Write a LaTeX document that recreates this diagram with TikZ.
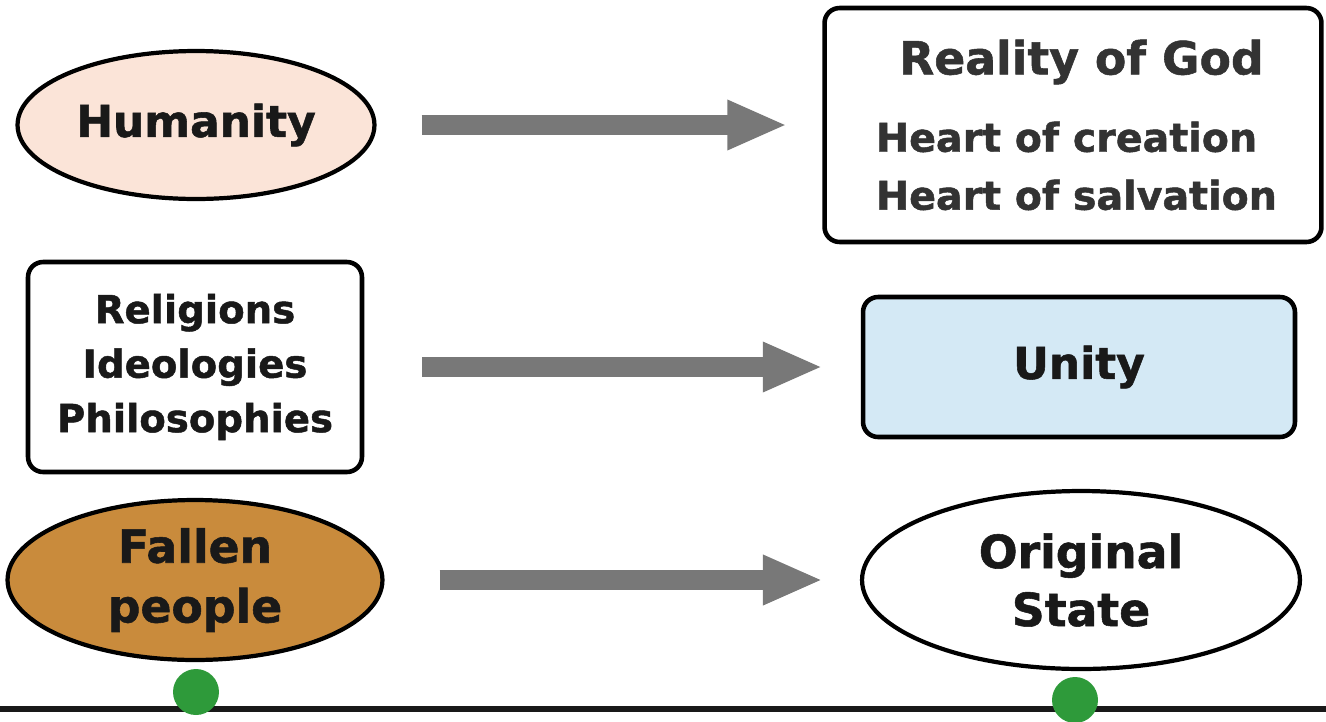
\documentclass[tikz,border=0pt]{standalone}
\usepackage{fontspec}
\setmainfont{DejaVu Sans}[BoldFeatures={FakeBold=1.2}]
\usetikzlibrary{shapes.geometric, arrows.meta}
\definecolor{peach}{RGB}{251,228,216}
\definecolor{ochre}{RGB}{201,139,60}
\definecolor{paleblue}{RGB}{212,233,245}
\definecolor{arrowgray}{RGB}{120,120,120}
\definecolor{inkgray}{RGB}{51,51,51}
\definecolor{dotgreen}{RGB}{46,154,58}

\begin{document}
\begin{tikzpicture}[x=0.02cm, y=-0.02cm]
	\tikzset{oval/.style={draw, ellipse, line width=2.4pt, inner sep=0pt, align=center, text=black!90}}
	\tikzset{panel/.style={draw, rectangle, rounded corners=0.3cm, line width=2.6pt, inner sep=0pt, align=center, text=black!90}}
	\tikzset{flow/.style={draw=arrowgray, line width=0.4cm, -{Triangle[length=1.2cm,width=0.92cm]}}}
	\tikzset{dot/.style={circle, fill=dotgreen, inner sep=0pt, minimum size=0.92cm}}
	
	\useasboundingbox (0,0) rectangle (1326,721);
	
	% left column
	\node(hum) at (196,125) [oval, fill=peach, minimum width=7.14cm, minimum height=2.96cm, font=\bfseries\fontsize{25}{30}\selectfont] {Humanity};
	\node(rel) at (195,367) [panel, minimum width=6.68cm, minimum height=4.2cm, font=\bfseries\fontsize{22}{31}\selectfont] {Religions\\Ideologies\\Philosophies};
	\node(fall) at (195,580) [oval, fill=ochre, minimum width=7.5cm, minimum height=3.2cm, font=\bfseries\fontsize{26}{34}\selectfont] {Fallen\\people};
	
	% right column
	\node(god) at (1073,125) [panel, minimum width=9.94cm, minimum height=4.68cm, align=left, text=inkgray, font=\bfseries\fontsize{22.5}{33}\selectfont] {{\fontsize{26}{33}\selectfont\hspace*{0.6cm}Reality of God}\\[11pt]\hspace*{0.14cm}Heart of creation\\\hspace*{0.14cm}Heart of salvation};
	\node(uni) at (1079,367) [panel, fill=paleblue, minimum width=8.64cm, minimum height=2.8cm, font=\bfseries\fontsize{25}{30}\selectfont] {Unity};
	\node(orig) at (1081,580) [oval, minimum width=8.76cm, minimum height=3.56cm, font=\bfseries\fontsize{26}{33}\selectfont] {Original\\State};
	
	\draw[flow, shorten <=0.9cm, shorten >=0.7cm] (hum.east) -- (god.west);
	\draw[flow, shorten <=1.16cm, shorten >=0.76cm] (rel.east) -- (uni.west);
	\draw[flow, shorten <=1.1cm, shorten >=0.74cm] (fall.east) -- (orig.west);
	
	% base line with markers
	\coordinate(base_l) at (0,709);
	\coordinate(base_r) at (1326,709);
	\draw[line width=0.12cm, black!90] (base_l) -- (base_r);
	\node(dot_l) at (196,692) [dot] {};
	\node(dot_r) at (1075,700) [dot] {};
	
\end{tikzpicture}
\end{document}
